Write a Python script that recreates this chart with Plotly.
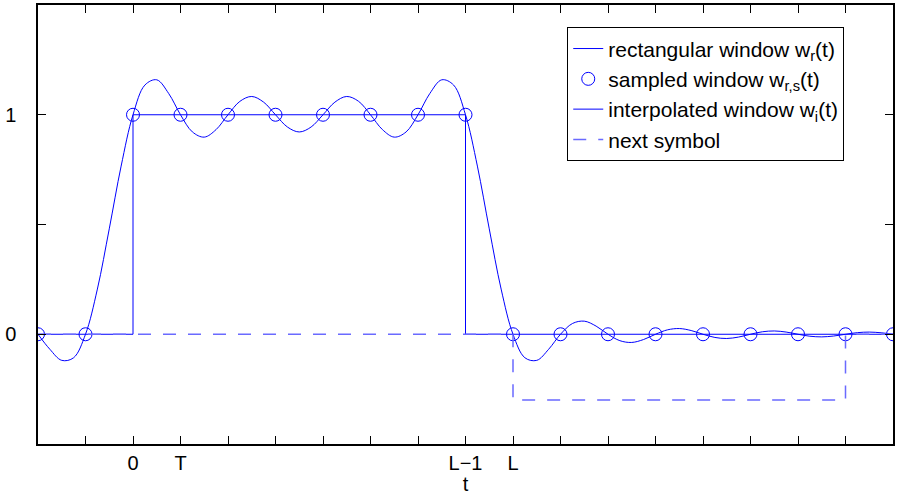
import plotly.graph_objects as go

# --- data ---
rect_t = [-2, 0, 0, 7, 7, 16]
rect_w = [0, 0, 1, 1, 0, 0]

sample_t = list(range(-2, 17))
sample_w = [0, 0, 1, 1, 1, 1, 1, 1, 1, 1, 0, 0, 0, 0, 0, 0, 0, 0, 0]

interp_t = [-2 + 0.25 * i for i in range(73)]
interp_w = [
    0, -0.0685, -0.1190, -0.1070,
    0, 0.2058, 0.4802, 0.7661,
    1, 1.1352, 1.1592, 1.0972,
    1, 0.9218, 0.8981, 0.9326,
    1, 1.0610, 1.0833, 1.0574,
    1, 0.9443, 0.9216, 0.9443,
    1, 1.0574, 1.0833, 1.0610,
    1, 0.9326, 0.8981, 0.9218,
    1, 1.0972, 1.1592, 1.1352,
    1, 0.7661, 0.4802, 0.2058,
    0, -0.1070, -0.1190, -0.0685,
    0, 0.0488, 0.0597, 0.0370,
    0, -0.0293, -0.0373, -0.0239,
    0, 0.0200, 0.0260, 0.0170,
    0, -0.0146, -0.0193, -0.0128,
    0, 0.0113, 0.0150, 0.0100,
    0, -0.0090, -0.0120, -0.0081,
    0, 0.0073, 0.0099, 0.0067,
    0,
]

next_t = [-2, 8, 8, 15, 15, 16]
next_w = [0, 0, -0.3, -0.3, 0, 0]

x_tickvals = list(range(-2, 17))
x_ticktext = ["" for _ in x_tickvals]
x_labels = {0: "0", 1: "T", 7: "L\u22121", 8: "L"}
for i, v in enumerate(x_tickvals):
    if v in x_labels:
        x_ticktext[i] = x_labels[v]

y_tickvals = [0, 0.5, 1]
y_ticktext = ["0", "", "1"]

BLUE = "#0000ff"
FONT = "Liberation Sans, Arial, sans-serif"

fig = go.Figure()
fig.add_trace(go.Scatter(x=rect_t, y=rect_w, mode="lines",
                         line=dict(color=BLUE, width=1),
                         name="rectangular window w<sub>r</sub>(t)"))
fig.add_trace(go.Scatter(x=sample_t, y=sample_w, mode="markers",
                         marker=dict(symbol="circle-open", size=13,
                                     color=BLUE, line=dict(width=1, color=BLUE)),
                         name="sampled window w<sub>r,s</sub>(t)"))
fig.add_trace(go.Scatter(x=interp_t, y=interp_w, mode="lines",
                         line=dict(color=BLUE, width=1, shape="spline", smoothing=1),
                         name="interpolated window w<sub>i</sub>(t)"))
fig.add_trace(go.Scatter(x=next_t, y=next_w, mode="lines",
                         line=dict(color="#6a6aff", width=1.5, dash="13px,12px"),
                         name="next symbol"))

axis_common = dict(showgrid=False, zeroline=False, showline=True,
                   linecolor="black", linewidth=1.5, mirror="ticks",
                   ticks="inside", ticklen=8, tickcolor="black", tickwidth=1,
                   tickfont=dict(family=FONT, size=20, color="black"))

fig.update_xaxes(range=[-2, 16], tickmode="array", tickvals=x_tickvals,
                 ticktext=x_ticktext, ticklabelstandoff=0,
                 title=dict(text="t", font=dict(family=FONT, size=20, color="black"),
                            standoff=4),
                 **axis_common)
fig.update_yaxes(range=[-0.5, 1.5], tickmode="array", tickvals=y_tickvals,
                 ticktext=y_ticktext, ticklabelstandoff=16, **axis_common)

fig.update_layout(
    width=898, height=495,
    margin=dict(l=38, r=4, t=3, b=50),
    plot_bgcolor="white", paper_bgcolor="white",
    font=dict(family=FONT, size=20, color="black"),
    legend=dict(x=0.619, y=0.949, xanchor="left", yanchor="top",
                bgcolor="white", bordercolor="black", borderwidth=1,
                font=dict(family=FONT, size=21, color="black"),
                tracegroupgap=0),
    showlegend=True,
)

fig.write_html("out.html")
